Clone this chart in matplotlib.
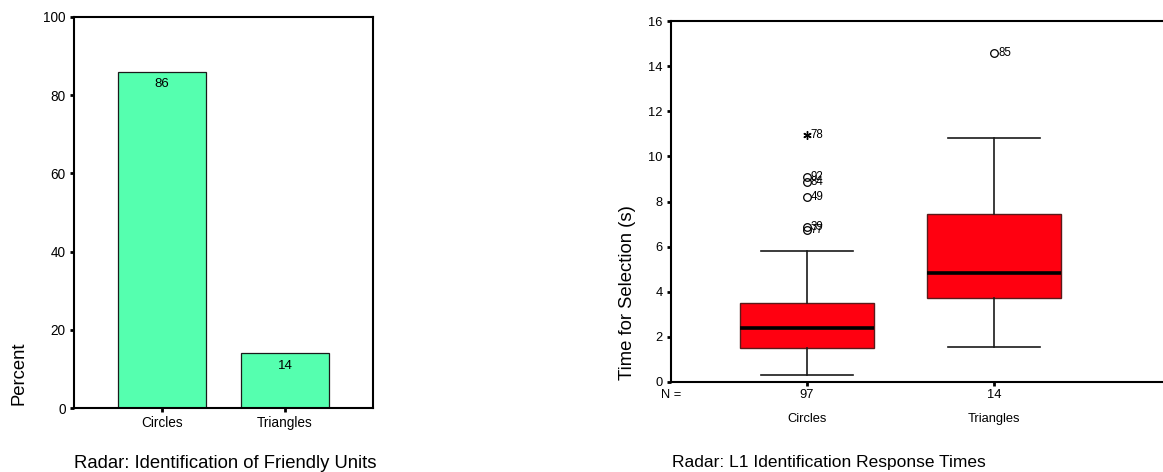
import matplotlib.pyplot as plt

plt.rcParams['font.family'] = ['Liberation Sans', 'DejaVu Sans']

# left chart: percent identification
categories = ['Circles', 'Triangles']
percent = [86, 14]

# right chart: response times (box summary)
n_counts = [97, 14]
medians = [2.41, 4.85]
q1 = [1.49, 3.74]
q3 = [3.50, 7.43]
whis_lo = [0.31, 1.57]
whis_hi = [5.82, 10.82]
outlier_vals = [[9.10, 8.88, 8.19, 6.88, 6.74], [14.60]]
outlier_ids = [['92', '84', '49', '39', '77'], ['85']]
extreme_vals = [[10.95], []]
extreme_ids = [['78'], []]

W, H = 1163, 472
fig = plt.figure(figsize=(W / 100, H / 100), dpi=100)


def px_box(x0, y0, x1, y1):
    return [x0 / W, 1 - y1 / H, (x1 - x0) / W, (y1 - y0) / H]


def style_axes(ax, size):
    for s in ax.spines.values():
        s.set_linewidth(1.5)
    ax.tick_params(direction='out', length=3, width=2, labelsize=size, pad=3)


# ---- left: bar chart ----
ax1 = fig.add_axes(px_box(74, 17, 373, 408))
style_axes(ax1, 9.8)
x = list(range(len(categories)))
ax1.bar(x, percent, width=0.71, color='#55FFAF', edgecolor='#1a1a1a', linewidth=0.9)
for xi, v in zip(x, percent):
    ax1.annotate(str(v), (xi, v), xytext=(0, -4.5), textcoords='offset points',
                 ha='center', va='top', fontsize=9.5)
ax1.set_xlim(-0.715, 1.715)
ax1.set_ylim(0, 100)
ax1.set_yticks([0, 20, 40, 60, 80, 100])
ax1.set_xticks(x)
ax1.set_xticklabels(categories)
fig.text(19 / W, 1 - 405 / H, 'Percent', rotation=90, ha='center', va='bottom', fontsize=13.3)
fig.text(74 / W, 1 - 463 / H, 'Radar: Identification of Friendly Units', ha='left', va='center',
         fontsize=13.3)

# ---- right: box plot ----
ax2 = fig.add_axes(px_box(671, 21, 1172, 382))
style_axes(ax2, 9.3)
stats = []
for i in range(len(categories)):
    stats.append(dict(med=medians[i], q1=q1[i], q3=q3[i], whislo=whis_lo[i], whishi=whis_hi[i],
                      fliers=outlier_vals[i], label=categories[i]))
ax2.bxp(stats, positions=x, widths=0.717, patch_artist=True, capwidths=0.49,
        boxprops=dict(facecolor='#FF0010', edgecolor='#5a1a1a', linewidth=1.0),
        medianprops=dict(color='black', linewidth=2.6),
        whiskerprops=dict(color='#1a1a1a', linewidth=1.2),
        capprops=dict(color='#1a1a1a', linewidth=1.2),
        flierprops=dict(marker='o', markerfacecolor='none', markeredgecolor='black',
                        markersize=5.5, markeredgewidth=0.9))
for i in x:
    for v, lab in zip(outlier_vals[i], outlier_ids[i]):
        ax2.annotate(lab, (i, v), xytext=(2.8, 0), textcoords='offset points',
                     ha='left', va='center', fontsize=8.3)
    for v, lab in zip(extreme_vals[i], extreme_ids[i]):
        ax2.plot([i], [v], marker=(6, 2, 0), color='black', markersize=6, markeredgewidth=1.0)
        ax2.annotate(lab, (i, v), xytext=(2.8, 0), textcoords='offset points',
                     ha='left', va='center', fontsize=8.3)
ax2.set_xlim(-0.727, 1.95)
ax2.set_ylim(0, 16)
ax2.set_yticks(range(0, 17, 2))
ax2.set_xticks(x)
ax2.set_xticklabels(categories)
ax2.tick_params(axis='x', pad=19)
ax2.spines['right'].set_visible(False)
tr = ax2.get_xaxis_transform()
ax2.text(-0.727, -13 / 361, 'N =', transform=tr, ha='center', va='center', fontsize=9.3)
for xi, n in zip(x, n_counts):
    ax2.text(xi, -13 / 361, str(n), transform=tr, ha='center', va='center', fontsize=9.3)
fig.text(627 / W, 1 - 380 / H, 'Time for Selection (s)', rotation=90, ha='center', va='bottom',
         fontsize=13.3)
fig.text(672 / W, 1 - 462 / H, 'Radar: L1 Identification Response Times', ha='left', va='center',
         fontsize=12.5)

fig.savefig('out.png', dpi=100)
